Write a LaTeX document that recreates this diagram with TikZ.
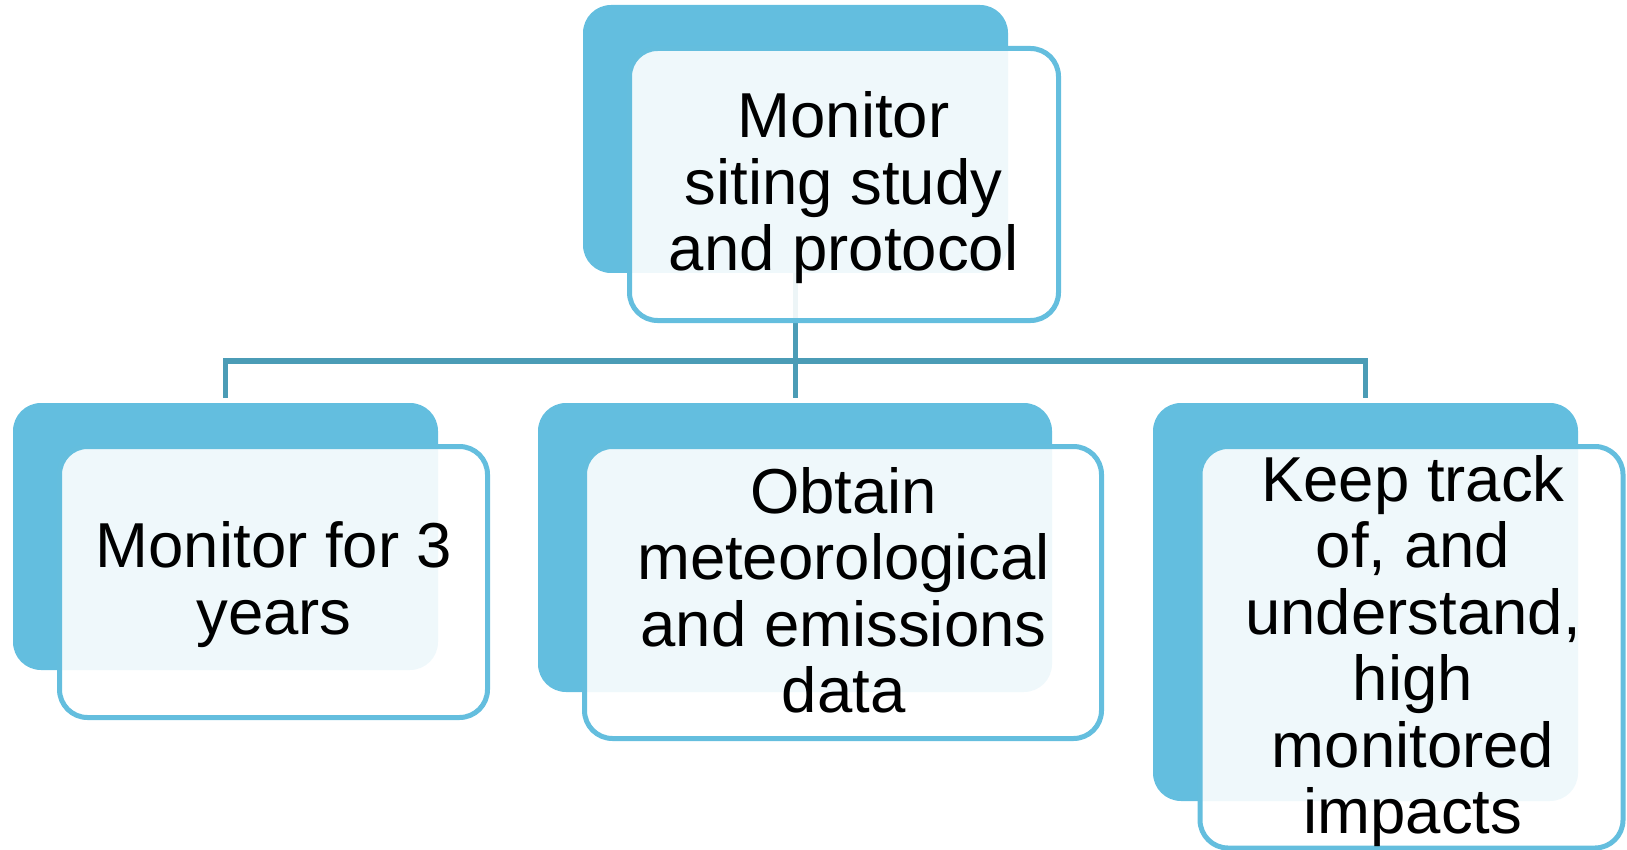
\documentclass[tikz,border=0pt]{standalone}
\usepackage{fontspec}
\setmainfont{Liberation Sans}
\definecolor{boxblue}{HTML}{63BEDF}
\definecolor{edgeblue}{HTML}{64BEDE}
\definecolor{linkblue}{HTML}{4B9CB6}
\tikzset{
  backbox/.style={rectangle, rounded corners=28pt, fill=boxblue, draw=none,
    inner sep=0pt, outer sep=0pt},
  frontbox/.style={rectangle, rounded corners=28pt, fill=white, fill opacity=0.9,
    draw=edgeblue, draw opacity=1, line width=5pt, inner sep=0pt, outer sep=0pt},
  label/.style={align=center, anchor=base, inner sep=0pt, text=black,
    font=\fontsize{63.5}{66.4}\selectfont},
  conn/.style={draw=linkblue, line width=5.5pt, line join=miter},
}
\begin{document}
\begin{tikzpicture}[x=1pt,y=-1pt]
\useasboundingbox (0,0) rectangle (1627,850);

% coloured back panels
\node[backbox, minimum width=425pt, minimum height=268pt] (tb) at (795.5,139) {};
\node[backbox, minimum width=425pt, minimum height=267pt] (lb) at (225.5,536.5) {};
\node[backbox, minimum width=514pt, minimum height=289pt] (mb) at (795,547.5) {};
\node[backbox, minimum width=425pt, minimum height=398pt] (rb) at (1365.5,602) {};

% tree connectors
\coordinate (bar) at (0,361);
\draw[conn, shorten <=5pt, shorten >=5pt] (lb.north) -- (lb.north |- bar) -| (rb.north);
\draw[conn, shorten >=5pt] (tb.south) -- (tb.south |- mb.north);

% translucent front cards
\node[frontbox, minimum width=429pt, minimum height=272pt] (tf) at (844,184.5) {};
\node[frontbox, minimum width=428pt, minimum height=271pt] (lf) at (273.5,582) {};
\node[frontbox, minimum width=517pt, minimum height=292pt] (mf) at (843,592.5) {};
\node[frontbox, minimum width=423pt, minimum height=401.5pt] (rf) at (1411.5,647.25) {};

% card texts (anchored at the baseline of the last line)
\node[label] (tt) at (843.6,270.8) {Monitor\\siting study\\and protocol};
\node[label] (lt) at (274,634) {Monitor for 3\\years};
\node[label] (mt) at (843.6,712.5) {Obtain\\meteorological\\and emissions\\data};
\node[label] (rt) at (1413,833.5) {Keep track\\of, and\\understand,\\high\\monitored\\impacts};
\end{tikzpicture}
\end{document}
